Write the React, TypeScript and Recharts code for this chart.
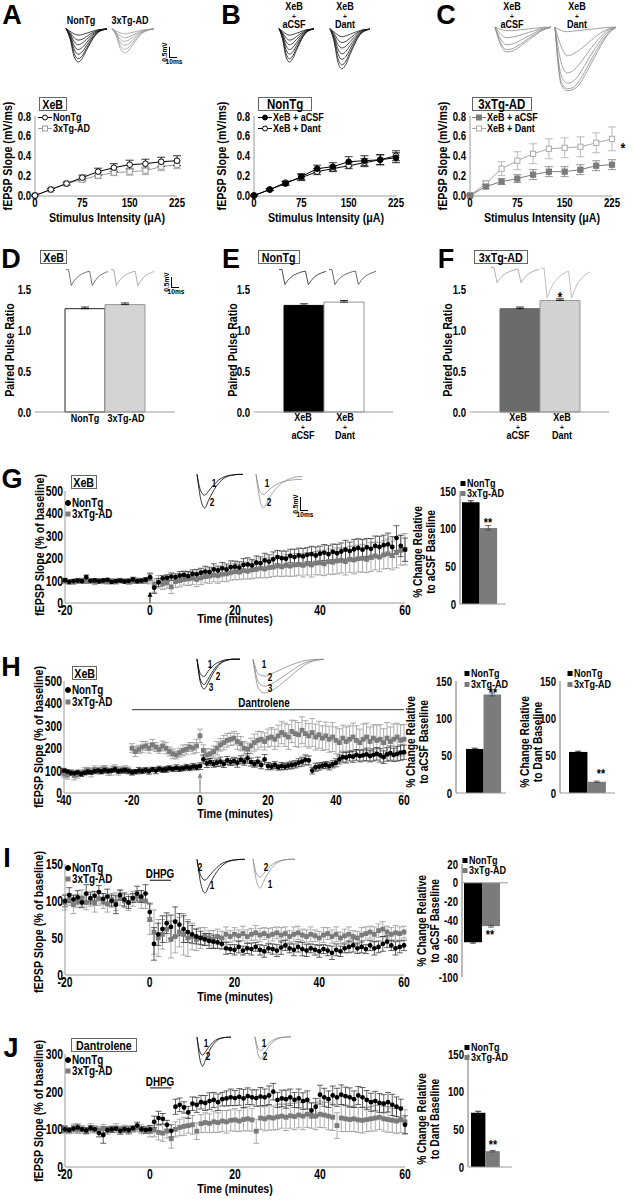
import React from 'react';
import { LineChart, Line, XAxis, YAxis, ErrorBar, BarChart, Bar, ScatterChart, Scatter, ReferenceLine, ReferenceDot } from 'recharts';

const FONT = "'Liberation Sans',Arial,Helvetica,sans-serif";
const CX = 0.82; // horizontal condensing of the bold sans text
const CT = 0.74; // condensing of tick numbers
const GRAY = '#7b7b7b';
const LIGHT = '#a9a9a9';
const AXIS = '#9a9a9a';

// ---------- A-C: input/output ----------
const stimulus = [0, 25, 50, 75, 100, 125, 150, 175, 200, 225];
const stimTicks = [0, 75, 150, 225];
const slopeTicks = [0, 0.2, 0.4, 0.6, 0.8];
const aNonTg = [0, 0.06, 0.12, 0.18, 0.24, 0.28, 0.31, 0.32, 0.34, 0.35];
const aNonTgErr = [0.005, 0.01, 0.015, 0.025, 0.035, 0.04, 0.045, 0.045, 0.045, 0.05];
const a3xTg = [0, 0.06, 0.12, 0.16, 0.2, 0.23, 0.24, 0.25, 0.29, 0.31];
const a3xTgErr = [0.005, 0.01, 0.015, 0.02, 0.03, 0.03, 0.035, 0.04, 0.04, 0.04];
const bACSF = [0, 0.06, 0.12, 0.19, 0.27, 0.29, 0.34, 0.35, 0.36, 0.38];
const bACSFErr = [0.005, 0.01, 0.02, 0.03, 0.035, 0.04, 0.05, 0.05, 0.05, 0.05];
const bDant = [0, 0.06, 0.13, 0.18, 0.24, 0.27, 0.3, 0.33, 0.36, 0.4];
const bDantErr = [0.005, 0.01, 0.015, 0.03, 0.03, 0.03, 0.03, 0.04, 0.05, 0.05];
const cACSF = [0, 0.09, 0.14, 0.17, 0.21, 0.24, 0.24, 0.26, 0.3, 0.31];
const cACSFErr = [0.005, 0.02, 0.03, 0.04, 0.05, 0.05, 0.05, 0.05, 0.05, 0.05];
const cDant = [0, 0.12, 0.27, 0.35, 0.42, 0.47, 0.48, 0.49, 0.53, 0.57];
const cDantErr = [0.005, 0.03, 0.07, 0.09, 0.1, 0.1, 0.1, 0.1, 0.1, 0.12];

// ---------- D-F: paired pulse ratio ----------
const ppTicks = [0, 0.5, 1.0, 1.5];
const ppD = [1.26, 1.31];
const ppDErr = [0.02, 0.02];
const ppE = [1.3, 1.34];
const ppEErr = [0.02, 0.02];
const ppF = [1.26, 1.36];
const ppFErr = [0.02, 0.02];

// ---------- G-J: time courses (one value per minute) ----------
const gNonTg = [
  102, 95, 98, 100, 97, 115, 99, 101, 96, 100,
  103, 94, 98, 100, 96, 99, 105, 97, 100, 104,
  115, 68, 92, 110, 112, 118, 115, 122, 125, 120,
  130, 128, 135, 140, 138, 150, 145, 155, 150, 160,
  162, 158, 170, 172, 168, 180, 178, 190, 185, 195,
  205, 200, 198, 210, 205, 212, 208, 215, 218, 212,
  220, 225, 218, 228, 222, 230, 238, 232, 240, 245,
  238, 248, 242, 255, 250, 258, 262, 250, 290, 255,
  238];
const gNonTgErr = [
  8, 6, 7, 9, 6, 10, 7, 8, 6, 9,
  7, 8, 6, 9, 7, 8, 10, 7, 8, 9,
  15, 25, 18, 12, 14, 16, 15, 18, 17, 20,
  18, 22, 20, 24, 22, 25, 20, 26, 24, 28,
  25, 26, 28, 30, 27, 30, 28, 32, 30, 33,
  30, 32, 34, 30, 35, 33, 36, 32, 35, 38,
  34, 36, 38, 35, 40, 38, 42, 40, 44, 42,
  45, 40, 46, 44, 48, 45, 50, 46, 55, 48,
  52];
const g3xTg = [
  98, 92, 95, 97, 100, 96, 98, 94, 100, 97,
  95, 99, 96, 100, 98, 94, 97, 100, 96, 98,
  110, 78, 95, 85, 90, 72, 95, 100, 105, 108,
  110, 105, 112, 118, 120, 125, 122, 128, 130, 135,
  140, 138, 145, 142, 148, 150, 155, 152, 158, 160,
  165, 162, 168, 165, 170, 172, 168, 175, 170, 178,
  180, 175, 185, 182, 188, 190, 185, 195, 192, 198,
  200, 195, 205, 210, 205, 215, 220, 212, 225, 235,
  240];
const g3xTgErr = [
  10, 8, 12, 9, 11, 8, 10, 12, 9, 11,
  10, 8, 12, 10, 9, 11, 10, 12, 9, 10,
  25, 30, 28, 25, 24, 30, 26, 28, 25, 30,
  28, 32, 30, 28, 32, 30, 34, 32, 35, 33,
  36, 34, 38, 35, 40, 38, 42, 40, 44, 42,
  45, 44, 48, 46, 50, 48, 52, 50, 54, 52,
  55, 53, 56, 55, 58, 56, 60, 58, 62, 60,
  62, 60, 64, 62, 65, 63, 66, 64, 68, 66,
  70];

const hNonTg = [
  100, 95, 90, 88, 92, 85, 90, 95, 92, 98,
  100, 96, 102, 98, 100, 105, 97, 100, 102, 98,
  92, 95, 100, 98, 102, 97, 105, 100, 108, 103,
  105, 110, 107, 112, 108, 110, 115, 112, 118, 115,
  120, 150, 132, 138, 130, 135, 140, 130, 145, 138,
  142, 135, 148, 140, 155, 138, 130, 140, 125, 150,
  120, 118, 125, 115, 120, 118, 122, 125, 128, 135,
  140, 148, 145, 100, 115, 118, 122, 125, 120, 128,
  135, 150, 160, 158, 165, 162, 170, 165, 168, 172,
  165, 170, 175, 168, 160, 172, 178, 170, 175, 180,
  182];
const hNonTgErr = [
  10, 8, 12, 9, 10, 11, 8, 12, 9, 10,
  11, 9, 12, 10, 8, 11, 9, 10, 12, 9,
  12, 10, 14, 11, 12, 13, 10, 14, 12, 11,
  13, 12, 10, 14, 12, 11, 13, 12, 14, 12,
  15, 20, 18, 16, 15, 17, 20, 16, 18, 15,
  17, 20, 18, 16, 22, 18, 15, 20, 17, 22,
  16, 14, 15, 13, 16, 14, 15, 17, 16, 18,
  20, 22, 20, 15, 18, 16, 14, 15, 17, 16,
  18, 20, 22, 24, 22, 25, 24, 26, 25, 28,
  26, 27, 28, 30, 28, 30, 32, 30, 32, 34,
  32];
const h3xTg = [
  85, 80, 90, 78, 82, 88, 95, 100, 92, 105,
  98, 102, 108, 95, 100, 110, 98, 102, 105, 100,
  200, 185, 195, 205, 210, 200, 215, 205, 195, 210,
  200, 185, 175, 170, 180, 190, 195, 205, 200, 210,
  255, 190, 170, 175, 185, 200, 215, 225, 235, 240,
  245, 230, 220, 200, 195, 210, 225, 235, 240, 230,
  245, 250, 240, 255, 270, 260, 250, 275, 265, 260,
  280, 265, 255, 270, 250, 260, 245, 255, 240, 250,
  235, 225, 245, 230, 240, 250, 235, 225, 240, 250,
  230, 245, 235, 240, 225, 245, 230, 240, 250, 235,
  240];
const h3xTgErr = [
  15, 18, 12, 20, 16, 14, 18, 15, 20, 16,
  14, 18, 15, 17, 20, 16, 18, 15, 17, 16,
  20, 22, 18, 25, 20, 22, 24, 20, 18, 22,
  25, 20, 22, 18, 20, 24, 22, 20, 25, 30,
  30, 25, 28, 22, 25, 30, 28, 32, 30, 28,
  30, 35, 32, 30, 28, 35, 38, 40, 35, 38,
  40, 42, 45, 48, 50, 52, 55, 50, 58, 55,
  60, 58, 55, 62, 58, 60, 55, 62, 58, 65,
  60, 62, 58, 65, 60, 62, 65, 60, 68, 62,
  65, 60, 68, 65, 62, 70, 65, 68, 62, 70,
  65];

const iNonTg = [
  100, 108, 102, 105, 98, 110, 104, 107, 112, 103,
  106, 100, 95, 108, 102, 98, 104, 110, 106, 110,
  85, 42, 55, 62, 70, 65, 72, 68, 62, 58,
  55, 52, 50, 48, 46, 45, 44, 42, 36, 35,
  34, 38, 33, 36, 35, 38, 34, 32, 36, 35,
  33, 37, 40, 36, 34, 38, 35, 33, 36, 34,
  32, 35, 33, 30, 34, 32, 36, 38, 40, 36,
  38, 35, 40, 36, 38, 42, 45, 40, 36, 38,
  40];
const iNonTgErr = [
  8, 10, 6, 9, 7, 12, 8, 6, 9, 7,
  10, 8, 12, 7, 9, 8, 6, 10, 8, 12,
  12, 22, 15, 18, 14, 16, 20, 15, 18, 14,
  12, 10, 9, 8, 10, 9, 8, 7, 8, 6,
  7, 8, 6, 7, 8, 6, 7, 8, 6, 7,
  8, 9, 7, 6, 8, 7, 9, 8, 6, 7,
  8, 6, 7, 9, 8, 7, 6, 8, 9, 7,
  8, 6, 7, 9, 8, 10, 8, 7, 9, 8,
  7];
const i3xTg = [
  98, 102, 95, 100, 104, 98, 101, 97, 103, 100,
  96, 102, 99, 104, 100, 98, 103, 106, 102, 100,
  75, 58, 50, 55, 62, 48, 52, 58, 55, 50,
  52, 48, 50, 52, 50, 48, 52, 50, 55, 52,
  55, 53, 56, 52, 55, 57, 54, 56, 53, 55,
  57, 54, 56, 52, 55, 57, 54, 52, 55, 53,
  50, 54, 56, 52, 55, 50, 53, 55, 52, 50,
  54, 56, 58, 55, 60, 62, 58, 55, 57, 56,
  58];
const i3xTgErr = [
  10, 8, 12, 9, 11, 10, 8, 12, 9, 10,
  11, 8, 12, 10, 9, 11, 10, 8, 12, 10,
  20, 30, 25, 20, 18, 25, 22, 20, 28, 25,
  18, 15, 14, 12, 10, 12, 10, 9, 10, 8,
  9, 8, 10, 9, 8, 10, 9, 8, 10, 9,
  8, 10, 9, 8, 10, 9, 8, 9, 10, 8,
  9, 10, 8, 9, 10, 8, 9, 10, 8, 9,
  10, 9, 8, 10, 9, 10, 8, 9, 10, 9,
  8];

const jNonTg = [
  100, 98, 102, 105, 100, 97, 103, 100, 90, 85,
  98, 100, 102, 96, 100, 98, 103, 110, 100, 98,
  100, 120, 130, 128, 112, 96, 160, 165, 158, 145,
  168, 165, 172, 170, 175, 178, 172, 180, 182, 185,
  183, 186, 182, 188, 185, 183, 187, 185, 190, 200,
  178, 182, 180, 185, 178, 182, 175, 178, 150, 160,
  192, 185, 180, 190, 185, 192, 188, 185, 180, 190,
  185, 178, 172, 175, 170, 168, 172, 165, 160, 155,
  112];
const jNonTgErr = [
  8, 6, 7, 9, 6, 8, 7, 6, 10, 22,
  7, 8, 6, 9, 7, 8, 6, 9, 7, 8,
  10, 15, 18, 14, 12, 16, 20, 18, 15, 16,
  18, 20, 18, 20, 22, 20, 22, 18, 20, 22,
  20, 22, 24, 22, 20, 22, 24, 22, 25, 22,
  20, 22, 24, 22, 20, 25, 22, 24, 20, 22,
  25, 24, 22, 25, 24, 26, 24, 25, 22, 24,
  26, 25, 24, 26, 25, 24, 26, 28, 26, 25,
  24];
const j3xTg = [
  100, 96, 102, 98, 100, 95, 103, 100, 98, 102,
  97, 100, 103, 99, 101, 98, 100, 104, 100, 98,
  95, 98, 92, 90, 95, 75, 100, 105, 108, 110,
  112, 95, 115, 118, 116, 120, 118, 122, 120, 124,
  125, 122, 126, 128, 125, 95, 130, 128, 132, 130,
  133, 135, 132, 136, 134, 138, 135, 140, 137, 135,
  140, 138, 135, 132, 110, 130, 128, 126, 128, 125,
  124, 126, 128, 130, 132, 128, 126, 124, 122, 125,
  120];
const j3xTgErr = [
  10, 8, 12, 9, 10, 8, 12, 10, 9, 11,
  10, 8, 12, 9, 10, 11, 8, 10, 12, 9,
  15, 18, 20, 22, 18, 25, 20, 22, 24, 20,
  25, 22, 24, 26, 25, 28, 26, 28, 30, 28,
  30, 28, 30, 32, 30, 32, 30, 32, 34, 32,
  34, 32, 35, 33, 35, 34, 36, 35, 34, 36,
  35, 34, 36, 35, 34, 36, 34, 32, 34, 33,
  34, 32, 33, 34, 32, 33, 34, 32, 33, 34,
  32];

const timeTicks = [-20, 0, 20, 40, 60];
const timeTicksH = [-40, -20, 0, 20, 40, 60];
const ticks500 = [0, 100, 200, 300, 400, 500];
const ticks150 = [0, 50, 100, 150];
const ticks300 = [0, 100, 200, 300];
const insetTicks150 = [0, 50, 100, 150];
const insetTicksI = [-100, -80, -60, -40, -20, 0, 20];

// summary bars (NonTg, 3xTg-AD)
const gSummary = [135, 101];
const gSummaryErr = [2, 3];
const hSummaryACSF = [59, 132];
const hSummaryACSFErr = [1, 2];
const hSummaryDant = [55, 15];
const hSummaryDantErr = [1, 1];
const iSummary = [-63, -46];
const iSummaryErr = [1, 1];
const jSummary = [72, 21];
const jSummaryErr = [2, 1];

// ---------- example traces ----------
const epspNonTg = [
  [0.02, -0.06, -0.14, -0.18, -0.16, -0.12, -0.08, -0.04, -0.01, 0, 0.01],
  [0.02, -0.1, -0.26, -0.33, -0.3, -0.22, -0.14, -0.07, -0.02, 0, 0.01],
  [0.02, -0.14, -0.38, -0.47, -0.42, -0.31, -0.2, -0.1, -0.03, 0, 0.01],
  [0.02, -0.18, -0.5, -0.62, -0.55, -0.41, -0.26, -0.13, -0.05, -0.01, 0.01],
  [0.02, -0.22, -0.62, -0.76, -0.68, -0.5, -0.32, -0.16, -0.06, -0.01, 0.01],
  [0.02, -0.26, -0.74, -0.9, -0.8, -0.58, -0.37, -0.19, -0.07, -0.02, 0.01],
  [0.02, -0.3, -0.84, -1.0, -0.88, -0.64, -0.41, -0.21, -0.08, -0.02, 0.01],
];
const epsp3xTg = [
  [0.02, -0.05, -0.11, -0.14, -0.12, -0.09, -0.06, -0.03, -0.01, 0, 0.01],
  [0.02, -0.08, -0.2, -0.26, -0.23, -0.17, -0.11, -0.05, -0.02, 0, 0.01],
  [0.02, -0.11, -0.3, -0.37, -0.33, -0.24, -0.15, -0.08, -0.03, 0, 0.01],
  [0.02, -0.14, -0.4, -0.49, -0.44, -0.32, -0.2, -0.1, -0.04, -0.01, 0.01],
  [0.02, -0.17, -0.5, -0.61, -0.54, -0.39, -0.25, -0.12, -0.05, -0.01, 0.01],
  [0.02, -0.2, -0.6, -0.72, -0.64, -0.46, -0.29, -0.14, -0.06, -0.01, 0.01],
];
const epspCACSF = [
  [0, -0.04, -0.06, -0.06, -0.05, -0.04, -0.03, -0.02, -0.01, 0, 0],
  [0, -0.12, -0.18, -0.17, -0.15, -0.12, -0.09, -0.06, -0.03, -0.01, 0],
  [0, -0.2, -0.3, -0.29, -0.25, -0.2, -0.15, -0.1, -0.05, -0.02, 0],
  [0, -0.26, -0.38, -0.37, -0.32, -0.26, -0.19, -0.13, -0.07, -0.03, 0],
  [0, -0.3, -0.42, -0.41, -0.36, -0.29, -0.22, -0.15, -0.08, -0.03, 0],
];
const epspCDant = [
  [0, -0.05, -0.07, -0.06, -0.05, -0.04, -0.03, -0.02, -0.01, 0, 0],
  [0, -0.3, -0.45, -0.42, -0.36, -0.28, -0.2, -0.12, -0.06, -0.02, 0],
  [0, -0.55, -0.72, -0.68, -0.58, -0.45, -0.32, -0.2, -0.1, -0.03, 0],
  [0, -0.75, -0.88, -0.85, -0.74, -0.58, -0.42, -0.27, -0.14, -0.05, 0],
  [0, -0.85, -0.97, -0.95, -0.84, -0.68, -0.5, -0.33, -0.18, -0.07, 0],
  [0, -0.9, -1.0, -0.98, -0.9, -0.74, -0.56, -0.38, -0.21, -0.08, 0],
];
const pairedPulse = [[0, 0, -1.0, -0.72, -0.52, -0.38, -0.28, -0.2, -0.14, -0.1, -1.0, -0.72, -0.5, -0.36, -0.26, -0.18, -0.12]];
const ltpPair = [
  [0, -0.5, -0.62, -0.5, -0.36, -0.24, -0.14, -0.08, -0.04, -0.02, -0.01, 0, 0],
  [0, -0.75, -1.0, -0.78, -0.55, -0.36, -0.22, -0.12, -0.06, -0.03, -0.01, 0, 0],
];
const ltpPairOpen = [
  [0, -0.5, -0.6, -0.5, -0.4, -0.32, -0.26, -0.22, -0.19, -0.17, -0.16, -0.15, -0.15],
  [0, -0.75, -1.0, -0.8, -0.6, -0.45, -0.33, -0.24, -0.17, -0.12, -0.09, -0.07, -0.06],
];
const dantTriple = [
  [0, -0.5, -0.58, -0.42, -0.28, -0.17, -0.1, -0.05, -0.02, -0.01, 0, 0, 0],
  [0, -0.7, -0.85, -0.68, -0.48, -0.3, -0.17, -0.09, -0.04, -0.01, 0, 0, 0],
  [0, -0.8, -1.0, -0.82, -0.58, -0.38, -0.22, -0.11, -0.05, -0.02, 0, 0, 0],
];
const dantTripleBroad = [
  [0, -0.45, -0.5, -0.44, -0.36, -0.28, -0.2, -0.13, -0.07, -0.03, -0.01, 0, 0],
  [0, -0.7, -0.8, -0.74, -0.64, -0.52, -0.4, -0.28, -0.17, -0.09, -0.04, -0.01, 0],
  [0, -0.9, -1.0, -0.94, -0.84, -0.7, -0.55, -0.4, -0.26, -0.14, -0.06, -0.02, 0],
];

// ---------- helpers ----------
function frame(x0: number, y0: number, x1: number, y1: number, yw: number, xh: number, mt = 8, mr = 8) {
  return { left: x0 - yw, top: y0 - mt, width: x1 - x0 + yw + mr, height: y1 - y0 + mt + xh, margin: { top: mt, right: mr, bottom: 0, left: 0 } };
}

function tickR(kind: string, fmt?: (v: number) => string, size = 13) {
  return (p: any) => {
    const v = fmt ? fmt(p.payload.value) : String(p.payload.value);
    return (
      <g transform={`translate(${p.x},${p.y})`}>
        <text transform={`scale(${CT},1)`} textAnchor={kind === 'x' ? 'middle' : 'end'} dy={kind === 'x' ? '0.71em' : '0.355em'} fontSize={size} fontFamily={FONT} fontWeight={700} fill="#000">{v}</text>
      </g>
    );
  };
}
const fmt1 = (v: number) => v.toFixed(1);

function Txt({ x, y, s = 12, a = 'middle', r = 0, w = 700, c = '#000', cx = CX, lh = 1, children }: any) {
  const tx = a === 'middle' ? '-50%' : a === 'end' ? '-100%' : '0%';
  return (
    <div style={{ position: 'absolute', left: x, top: y, transform: `translate(${tx},-50%) rotate(${r}deg) scaleX(${cx})`, fontSize: s, fontFamily: FONT, fontWeight: w, color: c, whiteSpace: 'nowrap', lineHeight: lh, textAlign: 'center' }}>
      {children}
    </div>
  );
}

function BoxLabel({ x, y, w, h, s = 13, children }: any) {
  return (
    <div style={{ position: 'absolute', left: x, top: y, width: w, height: h, border: '1px solid #666', boxSizing: 'border-box', display: 'flex', alignItems: 'center', justifyContent: 'center', fontFamily: FONT, fontWeight: 700, fontSize: s, lineHeight: 1, whiteSpace: 'nowrap' }}>
      <span style={{ display: 'inline-block', transform: `scaleX(${CX})` }}>{children}</span>
    </div>
  );
}

function Leg({ x, y, marker, color, fill, text, s = 11, line = false }: any) {
  const cx = line ? 7 : 3;
  return (
    <div style={{ position: 'absolute', left: x, top: y, transform: 'translateY(-50%)', display: 'flex', alignItems: 'center', fontFamily: FONT, fontWeight: 700, fontSize: s, whiteSpace: 'nowrap', lineHeight: 1 }}>
      <svg width={line ? 14 : 6} height={8} style={{ marginRight: 1 }}>
        {line && <line x1={0} y1={4} x2={14} y2={4} stroke={color} strokeWidth={1} />}
        {marker === 'circle'
          ? <circle cx={cx} cy={4} r={2.5} fill={fill} stroke={color} strokeWidth={1} />
          : <rect x={cx - 2.5} y={1.5} width={5} height={5} fill={fill} stroke={color} strokeWidth={line ? 1 : 0} />}
      </svg>
      <span style={{ display: 'inline-block', transform: `scaleX(${CX})`, transformOrigin: 'left center' }}>{text}</span>
    </div>
  );
}

function ScaleBar({ x, y, vh, hw }: any) {
  return (
    <>
      <div style={{ position: 'absolute', left: x, top: y, width: 0, height: vh, borderLeft: '1px solid #000' }} />
      <div style={{ position: 'absolute', left: x, top: y + vh, width: hw, height: 0, borderTop: '1px solid #000' }} />
      <Txt x={x - 4} y={y + vh / 2} s={8} r={-90}>0.5mV</Txt>
      <Txt x={x + 5} y={y + vh + 5} s={8}>10ms</Txt>
    </>
  );
}

function TraceFamily({ x, y, w, h, curves, colors, domain = [-1.03, 0.04], sw = 0.8, curve = 'monotone' }: any) {
  const data = curves[0].map((_: number, i: number) => {
    const r: any = { i };
    curves.forEach((c: number[], k: number) => { r['c' + k] = c[i]; });
    return r;
  });
  return (
    <div style={{ position: 'absolute', left: x, top: y }}>
      <LineChart width={w} height={h} data={data} margin={{ top: 1, right: 1, bottom: 1, left: 1 }}>
        <XAxis dataKey="i" type="number" domain={['dataMin', 'dataMax']} hide />
        <YAxis type="number" domain={domain} hide />
        {curves.map((_: any, k: number) => (
          <Line key={k} dataKey={'c' + k} type={curve} stroke={Array.isArray(colors) ? colors[k % colors.length] : colors} strokeWidth={sw} dot={false} isAnimationActive={false} />
        ))}
      </LineChart>
    </div>
  );
}

const dotFn = (marker: string, color: string, fill: string) => (p: any) =>
  marker === 'circle'
    ? <circle key={p.index} cx={p.cx} cy={p.cy} r={2.8} fill={fill} stroke={color} strokeWidth={1} />
    : <rect key={p.index} x={p.cx - 2.6} y={p.cy - 2.6} width={5.2} height={5.2} fill={fill} stroke={color} strokeWidth={1} />;

function DoseChart({ x0, series }: any) {
  const f = frame(x0, 116, x0 + 142, 196, 30, 16, 8, 14);
  const rows = stimulus.map((s, i) => {
    const r: any = { s };
    series.forEach((se: any, k: number) => { r['v' + k] = se.vals[i]; r['e' + k] = se.errs[i]; });
    return r;
  });
  return (
    <div style={{ position: 'absolute', left: f.left, top: f.top }}>
      <LineChart width={f.width} height={f.height} margin={f.margin} data={rows}>
        <XAxis type="number" dataKey="s" domain={[0, 225]} ticks={stimTicks} interval={0} tick={tickR('x')} tickLine={false} axisLine={{ stroke: AXIS }} height={16} tickSize={1} tickMargin={1} />
        <YAxis type="number" domain={[0, 0.8]} ticks={slopeTicks} interval={0} tick={tickR('y', fmt1)} tickLine={false} axisLine={{ stroke: AXIS }} width={30} tickSize={2} tickMargin={2} />
        {series.map((se: any, k: number) => (
          <Line key={k} dataKey={'v' + k} stroke={se.color} strokeWidth={1} dot={dotFn(se.marker, se.color, se.fill)} isAnimationActive={false}>
            <ErrorBar dataKey={'e' + k} direction="y" width={4} stroke={se.color} strokeWidth={0.8} />
          </Line>
        ))}
      </LineChart>
    </div>
  );
}

function PPBar({ x0, x1, values, errs, fills, strokes }: any) {
  const f = frame(x0, 289, x1, 412, 30, 10, 8, 4);
  const row = { n: 'g', a: values[0], b: values[1], ea: [0, errs[0]], eb: [0, errs[1]] };
  return (
    <div style={{ position: 'absolute', left: f.left, top: f.top }}>
      <BarChart width={f.width} height={f.height} margin={f.margin} data={[row]} barGap={0}>
        <XAxis dataKey="n" tick={false} tickLine={false} axisLine={{ stroke: AXIS }} height={10} />
        <YAxis type="number" domain={[0, 1.5]} ticks={ppTicks} interval={0} tick={tickR('y', fmt1)} tickLine={false} axisLine={false} width={30} tickSize={2} tickMargin={2} />
        <Bar dataKey="a" barSize={40} fill={fills[0]} stroke={strokes[0]} strokeWidth={1} isAnimationActive={false}>
          <ErrorBar dataKey="ea" width={4} stroke="#000" strokeWidth={0.8} direction="y" />
        </Bar>
        <Bar dataKey="b" barSize={40} fill={fills[1]} stroke={strokes[1]} strokeWidth={1} isAnimationActive={false}>
          <ErrorBar dataKey="eb" width={4} stroke="#000" strokeWidth={0.8} direction="y" />
        </Bar>
      </BarChart>
    </div>
  );
}

function Inset({ x0, y0, x1, y1, padL, padR, domain, ticks, values, errs, zero = false }: any) {
  const f = frame(x0, y0, x1, y1, 30, 10, 9, 4);
  const bw = (x1 - x0 - padL - padR) / 2;
  const row = { n: 'g', a: values[0], b: values[1], ea: errs[0], eb: errs[1] };
  return (
    <div style={{ position: 'absolute', left: f.left, top: f.top }}>
      <BarChart width={f.width} height={f.height} margin={f.margin} data={[row]} barGap={0}>
        <XAxis dataKey="n" tick={false} tickLine={false} axisLine={zero ? false : { stroke: AXIS }} height={10} padding={{ left: padL, right: padR }} />
        <YAxis type="number" domain={domain} ticks={ticks} interval={0} tick={tickR('y')} tickLine={false} axisLine={{ stroke: '#777' }} width={30} tickSize={2} tickMargin={2} />
        {zero && <ReferenceLine y={0} stroke={AXIS} />}
        <Bar dataKey="a" barSize={bw} fill="#000" isAnimationActive={false}>
          <ErrorBar dataKey="ea" width={3} stroke="#000" strokeWidth={0.8} direction="y" />
        </Bar>
        <Bar dataKey="b" barSize={bw} fill={GRAY} isAnimationActive={false}>
          <ErrorBar dataKey="eb" width={3} stroke="#444" strokeWidth={0.8} direction="y" />
        </Bar>
      </BarChart>
    </div>
  );
}

const dotCircle = (p: any) => <circle cx={p.cx} cy={p.cy} r={2.4} fill="#000" />;
const dotSquare = (p: any) => <rect x={p.cx - 2.4} y={p.cy - 2.4} width={4.8} height={4.8} fill={GRAY} />;
const arrowHead = (color: string) => (p: any) => <path d={`M${p.cx - 2.5},${p.cy + 5} L${p.cx},${p.cy} L${p.cx + 2.5},${p.cy + 5} Z`} fill={color} />;

function pts(start: number, vals: number[], errs: number[]) {
  return vals.map((v, i) => ({ t: start + i, v, e: errs[i] }));
}

function TimeSeries({ x0, y0, x1, y1, xDomain, xTicks, yDomain, yTicks, start, black, blackErr, gray, grayErr, children }: any) {
  const f = frame(x0, y0, x1, y1, 36, 18, 10, 12);
  return (
    <div style={{ position: 'absolute', left: f.left, top: f.top }}>
      <ScatterChart width={f.width} height={f.height} margin={f.margin}>
        <XAxis type="number" dataKey="t" domain={xDomain} ticks={xTicks} interval={0} tick={tickR('x', undefined, 14)} tickLine={false} axisLine={{ stroke: AXIS }} height={18} tickSize={1} tickMargin={1} />
        <YAxis type="number" dataKey="v" domain={yDomain} ticks={yTicks} interval={0} tick={tickR('y', undefined, 14)} tickLine={false} axisLine={{ stroke: AXIS }} width={36} tickSize={1} tickMargin={1} />
        <Scatter name="3xTg-AD" data={pts(start, gray, grayErr)} shape={dotSquare} isAnimationActive={false}>
          <ErrorBar dataKey="e" direction="y" width={3} stroke="#8a8a8a" strokeWidth={0.7} />
        </Scatter>
        <Scatter name="NonTg" data={pts(start, black, blackErr)} shape={dotCircle} isAnimationActive={false}>
          <ErrorBar dataKey="e" direction="y" width={3} stroke="#222" strokeWidth={0.7} />
        </Scatter>
        {children}
      </ScatterChart>
    </div>
  );
}

function TwoLine({ x, y, a, b, s = 12.5 }: any) {
  return <Txt x={x} y={y} s={s} r={-90} lh={1}>{a}<br />{b}</Txt>;
}

function Stack({ x, y, a, b, s = 11 }: any) {
  return <Txt x={x} y={y} s={s} lh={0.8}>{a}<br /><span style={{ fontSize: 8 }}>+</span><br />{b}</Txt>;
}

export default function App() {
  return (
    <div style={{ position: 'absolute', left: 0, top: 0, width: 634, height: 1200, background: '#fff', overflow: 'hidden' }}>
      {/* ---------- A ---------- */}
      <Txt x={12} y={15} s={27} cx={1}>A</Txt>
      <Txt x={81} y={20} s={11}>NonTg</Txt>
      <Txt x={130} y={20} s={11}>3xTg-AD</Txt>
      <TraceFamily x={65} y={27} w={43} h={37} curves={epspNonTg} colors="#111" />
      <TraceFamily x={111} y={27} w={44} h={37} curves={epsp3xTg} colors="#9a9a9a" />
      <ScaleBar x={169} y={47} vh={10} hw={8} />
      <BoxLabel x={39} y={97} w={28} h={14}>XeB</BoxLabel>
      <Leg x={38} y={117} line marker="circle" color="#000" fill="#fff" text="NonTg" />
      <Leg x={38} y={128} line marker="square" color="#999" fill="#fff" text="3xTg-AD" />
      <DoseChart x0={35} series={[
        { vals: a3xTg, errs: a3xTgErr, color: '#999', fill: '#fff', marker: 'square' },
        { vals: aNonTg, errs: aNonTgErr, color: '#000', fill: '#fff', marker: 'circle' },
      ]} />
      <Txt x={7} y={156} s={13} r={-90}>fEPSP Slope (mV/ms)</Txt>
      <Txt x={107} y={217} s={13}>Stimulus Intensity (μA)</Txt>

      {/* ---------- B ---------- */}
      <Txt x={231} y={15} s={27} cx={1}>B</Txt>
      <Stack x={294} y={15} a="XeB" b="aCSF" />
      <Stack x={345} y={15} a="XeB" b="Dant" />
      <TraceFamily x={278} y={27} w={37} h={37} curves={epspNonTg} colors="#111" />
      <TraceFamily x={329} y={27} w={42} h={44} curves={epspNonTg} colors="#222" />
      <BoxLabel x={258} y={97} w={54} h={14} s={14}>NonTg</BoxLabel>
      <Leg x={258} y={117} line marker="circle" color="#000" fill="#000" text="XeB + aCSF" />
      <Leg x={258} y={128} line marker="circle" color="#000" fill="#fff" text="XeB + Dant" />
      <DoseChart x0={254} series={[
        { vals: bDant, errs: bDantErr, color: '#000', fill: '#fff', marker: 'circle' },
        { vals: bACSF, errs: bACSFErr, color: '#000', fill: '#000', marker: 'circle' },
      ]} />
      <Txt x={221} y={156} s={13} r={-90}>fEPSP Slope (mV/ms)</Txt>
      <Txt x={326} y={217} s={13}>Stimulus Intensity (μA)</Txt>

      {/* ---------- C ---------- */}
      <Txt x={446} y={15} s={27} cx={1}>C</Txt>
      <Stack x={512} y={15} a="XeB" b="aCSF" />
      <Stack x={577} y={15} a="XeB" b="Dant" />
      <TraceFamily x={494} y={25} w={58} h={29} curves={epspCACSF} colors="#8a8a8a" domain={[-0.44, 0.02]} />
      <TraceFamily x={554} y={25} w={63} h={68} curves={epspCDant} colors="#8a8a8a" domain={[-1.02, 0.02]} />
      <BoxLabel x={472} y={97} w={60} h={14} s={14}>3xTg-AD</BoxLabel>
      <Leg x={472} y={117} line marker="square" color={GRAY} fill={GRAY} text="XeB + aCSF" />
      <Leg x={472} y={128} line marker="square" color={LIGHT} fill="#fff" text="XeB + Dant" />
      <DoseChart x0={470} series={[
        { vals: cDant, errs: cDantErr, color: LIGHT, fill: '#fff', marker: 'square' },
        { vals: cACSF, errs: cACSFErr, color: GRAY, fill: GRAY, marker: 'square' },
      ]} />
      <Txt x={623} y={147} s={15}>*</Txt>
      <Txt x={442} y={156} s={13} r={-90}>fEPSP Slope (mV/ms)</Txt>
      <Txt x={542} y={217} s={13}>Stimulus Intensity (μA)</Txt>

      {/* ---------- D ---------- */}
      <Txt x={11} y={259} s={27} cx={1}>D</Txt>
      <BoxLabel x={40} y={250} w={27} h={14}>XeB</BoxLabel>
      <TraceFamily x={65} y={268} w={44} h={19} curves={pairedPulse} colors="#555" curve="linear" />
      <TraceFamily x={110} y={268} w={45} h={19} curves={pairedPulse} colors="#9a9a9a" curve="linear" />
      <ScaleBar x={171} y={277} vh={10} hw={8} />
      <PPBar x0={35} x1={175} values={ppD} errs={ppDErr} fills={['#fff', '#d4d4d4']} strokes={['#222', '#999']} />
      <Txt x={9} y={350} s={13} r={-90}>Paired Pulse Ratio</Txt>
      <Txt x={85} y={418} s={11}>NonTg</Txt>
      <Txt x={126} y={418} s={11}>3xTg-AD</Txt>

      {/* ---------- E ---------- */}
      <Txt x={231} y={259} s={27} cx={1}>E</Txt>
      <BoxLabel x={258} y={250} w={42} h={14}>NonTg</BoxLabel>
      <TraceFamily x={278} y={268} w={49} h={18} curves={pairedPulse} colors="#222" curve="linear" />
      <TraceFamily x={328} y={268} w={49} h={18} curves={pairedPulse} colors="#444" curve="linear" />
      <PPBar x0={254} x1={393} values={ppE} errs={ppEErr} fills={['#000', '#fff']} strokes={['#000', '#999']} />
      <Txt x={232} y={350} s={13} r={-90}>Paired Pulse Ratio</Txt>
      <Stack x={303} y={426} a="XeB" b="aCSF" />
      <Stack x={345} y={426} a="XeB" b="Dant" />

      {/* ---------- F ---------- */}
      <Txt x={446} y={259} s={27} cx={1}>F</Txt>
      <BoxLabel x={474} y={250} w={54} h={14}>3xTg-AD</BoxLabel>
      <TraceFamily x={490} y={266} w={50} h={18} curves={pairedPulse} colors="#9a9a9a" curve="linear" />
      <TraceFamily x={540} y={266} w={51} h={34} curves={pairedPulse} colors="#b0b0b0" curve="linear" />
      <PPBar x0={470} x1={609} values={ppF} errs={ppFErr} fills={['#6b6b6b', '#d2d2d2']} strokes={['#666', '#999']} />
      <Txt x={560} y={297} s={14}>*</Txt>
      <Txt x={447} y={350} s={13} r={-90}>Paired Pulse Ratio</Txt>
      <Stack x={518} y={426} a="XeB" b="aCSF" />
      <Stack x={562} y={426} a="XeB" b="Dant" />

      {/* ---------- G ---------- */}
      <Txt x={12} y={479} s={27} cx={1}>G</Txt>
      <BoxLabel x={71} y={475} w={26} h={14}>XeB</BoxLabel>
      <TraceFamily x={196} y={472} w={48} h={38} curves={ltpPair} colors="#000" />
      <TraceFamily x={255} y={472} w={48} h={38} curves={ltpPairOpen} colors="#8a8a8a" />
      <Txt x={214} y={484} s={10}>1</Txt>
      <Txt x={212} y={503} s={10}>2</Txt>
      <Txt x={267} y={484} s={10}>1</Txt>
      <Txt x={269} y={503} s={10}>2</Txt>
      <ScaleBar x={300} y={497} vh={13} hw={8} />
      <TimeSeries x0={65} y0={491} x1={405} y1={603} xDomain={[-20, 60]} xTicks={timeTicks} yDomain={[0, 500]} yTicks={ticks500}
        start={-20} black={gNonTg} blackErr={gNonTgErr} gray={g3xTg} grayErr={g3xTgErr}>
        <ReferenceLine segment={[{ x: 0, y: 0 }, { x: 0, y: 45 }]} stroke="#000" strokeWidth={1} ifOverflow="visible" />
        <ReferenceDot x={0} y={50} r={3} shape={arrowHead('#000')} ifOverflow="visible" />
      </TimeSeries>
      <Leg x={65} y={503} marker="circle" color="#000" fill="#000" text="NonTg" s={12} />
      <Leg x={65} y={514} marker="square" color={GRAY} fill={GRAY} text="3xTg-AD" s={12} />
      <Txt x={39} y={545} s={13} r={-90}>fEPSP Slope (% of baseline)</Txt>
      <Txt x={235} y={618} s={13}>Time (minutes)</Txt>
      <Inset x0={460} y0={491} x1={506} y1={604} padL={0} padR={7} domain={[0, 150]} ticks={insetTicks150} values={gSummary} errs={gSummaryErr} />
      <Leg x={460} y={483} marker="square" color="#000" fill="#000" text="NonTg" />
      <Leg x={460} y={493} marker="square" color={GRAY} fill={GRAY} text="3xTg-AD" />
      <Txt x={488} y={522} s={13}>**</Txt>
      <TwoLine x={424} y={552} a="% Change Relative" b="to aCSF Baseline" />

      {/* ---------- H ---------- */}
      <Txt x={11} y={667} s={27} cx={1}>H</Txt>
      <BoxLabel x={72} y={666} w={25} h={14}>XeB</BoxLabel>
      <TraceFamily x={196} y={657} w={45} h={34} curves={dantTriple} colors="#000" />
      <TraceFamily x={252} y={657} w={73} h={38} curves={dantTripleBroad} colors="#8a8a8a" />
      <Txt x={210} y={665} s={10}>1</Txt>
      <Txt x={218} y={677} s={10}>2</Txt>
      <Txt x={211} y={688} s={10}>3</Txt>
      <Txt x={264} y={665} s={10}>1</Txt>
      <Txt x={270} y={678} s={10}>2</Txt>
      <Txt x={270} y={689} s={10}>3</Txt>
      <TimeSeries x0={64} y0={681} x1={404} y1={793} xDomain={[-40, 60]} xTicks={timeTicksH} yDomain={[0, 500]} yTicks={ticks500}
        start={-40} black={hNonTg} blackErr={hNonTgErr} gray={h3xTg} grayErr={h3xTgErr}>
        <ReferenceLine segment={[{ x: -20, y: 372 }, { x: 60, y: 372 }]} stroke="#333" strokeWidth={1} ifOverflow="visible" />
        <ReferenceLine segment={[{ x: 0, y: 0 }, { x: 0, y: 84 }]} stroke="#888" strokeWidth={1.2} ifOverflow="visible" />
        <ReferenceDot x={0} y={90} r={3} shape={arrowHead('#888')} ifOverflow="visible" />
      </TimeSeries>
      <Txt x={264} y={703} s={12}>Dantrolene</Txt>
      <Leg x={65} y={690} marker="circle" color="#000" fill="#000" text="NonTg" s={12} />
      <Leg x={65} y={702} marker="square" color={GRAY} fill={GRAY} text="3xTg-AD" s={12} />
      <Txt x={38} y={737} s={13} r={-90}>fEPSP Slope (% of baseline)</Txt>
      <Txt x={235} y={813} s={13}>Time (minutes)</Txt>
      <Inset x0={456} y0={681} x1={506} y1={793} padL={8} padR={3} domain={[0, 150]} ticks={insetTicks150} values={hSummaryACSF} errs={hSummaryACSFErr} />
      <Leg x={464} y={673} marker="square" color="#000" fill="#000" text="NonTg" />
      <Leg x={464} y={684} marker="square" color={GRAY} fill={GRAY} text="3xTg-AD" />
      <Txt x={493} y={692} s={13}>**</Txt>
      <TwoLine x={417} y={742} a="% Change Relative" b="to aCSF Baseline" />
      <Inset x0={560} y0={681} x1={615} y1={793} padL={7} padR={7} domain={[0, 150]} ticks={insetTicks150} values={hSummaryDant} errs={hSummaryDantErr} />
      <Leg x={567} y={673} marker="square" color="#000" fill="#000" text="NonTg" />
      <Leg x={567} y={684} marker="square" color={GRAY} fill={GRAY} text="3xTg-AD" />
      <Txt x={601} y={773} s={13}>**</Txt>
      <TwoLine x={531} y={742} a="% Change Relative" b="to Dant Baseline" />

      {/* ---------- I ---------- */}
      <Txt x={7} y={858} s={27} cx={1}>I</Txt>
      <TraceFamily x={196} y={857} w={50} h={38} curves={[ltpPair[1], ltpPair[0]]} colors="#000" />
      <TraceFamily x={252} y={857} w={44} h={33} curves={[ltpPair[1], ltpPair[0]]} colors="#8a8a8a" />
      <Txt x={200} y={868} s={10}>2</Txt>
      <Txt x={212} y={886} s={10}>1</Txt>
      <Txt x={266} y={868} s={10}>2</Txt>
      <Txt x={270} y={885} s={10}>1</Txt>
      <TimeSeries x0={65} y0={864} x1={404} y1={975} xDomain={[-20, 60]} xTicks={timeTicks} yDomain={[0, 150]} yTicks={ticks150}
        start={-20} black={iNonTg} blackErr={iNonTgErr} gray={i3xTg} grayErr={i3xTgErr}>
        <ReferenceLine segment={[{ x: 0, y: 128 }, { x: 5, y: 128 }]} stroke="#333" strokeWidth={1.2} ifOverflow="visible" />
      </TimeSeries>
      <Txt x={160} y={874} s={12}>DHPG</Txt>
      <Leg x={65} y={868} marker="circle" color="#000" fill="#000" text="NonTg" s={12} />
      <Leg x={65} y={879} marker="square" color={GRAY} fill={GRAY} text="3xTg-AD" s={12} />
      <Txt x={38} y={922} s={13} r={-90}>fEPSP Slope (% of baseline)</Txt>
      <Txt x={235} y={996} s={13}>Time (minutes)</Txt>
      <Inset x0={462} y0={864} x1={508} y1={977} padL={0} padR={6} domain={[-100, 20]} ticks={insetTicksI} values={iSummary} errs={iSummaryErr} zero />
      <Leg x={462} y={860} marker="square" color="#000" fill="#000" text="NonTg" />
      <Leg x={462} y={870} marker="square" color={GRAY} fill={GRAY} text="3xTg-AD" />
      <Txt x={490} y={934} s={13}>**</Txt>
      <TwoLine x={428} y={921} a="% Change Relative" b="to aCSF Baseline" />

      {/* ---------- J ---------- */}
      <Txt x={11} y={1048} s={27} cx={1}>J</Txt>
      <BoxLabel x={71} y={1038} w={66} h={14}>Dantrolene</BoxLabel>
      <TraceFamily x={196} y={1035} w={36} h={33} curves={ltpPair} colors="#000" />
      <TraceFamily x={254} y={1035} w={38} h={26} curves={ltpPair} colors="#8a8a8a" />
      <Txt x={206} y={1044} s={10}>1</Txt>
      <Txt x={208} y={1057} s={10}>2</Txt>
      <Txt x={264} y={1044} s={10}>1</Txt>
      <Txt x={265} y={1057} s={10}>2</Txt>
      <TimeSeries x0={65} y0={1054} x1={405} y1={1167} xDomain={[-20, 60]} xTicks={timeTicks} yDomain={[0, 300]} yTicks={ticks300}
        start={-20} black={jNonTg} blackErr={jNonTgErr} gray={j3xTg} grayErr={j3xTgErr}>
        <ReferenceLine segment={[{ x: 0, y: 210 }, { x: 5, y: 210 }]} stroke="#333" strokeWidth={1.2} ifOverflow="visible" />
      </TimeSeries>
      <Txt x={160} y={1082} s={12}>DHPG</Txt>
      <Leg x={65} y={1060} marker="circle" color="#000" fill="#000" text="NonTg" s={12} />
      <Leg x={65} y={1071} marker="square" color={GRAY} fill={GRAY} text="3xTg-AD" s={12} />
      <Txt x={38} y={1111} s={13} r={-90}>fEPSP Slope (% of baseline)</Txt>
      <Txt x={235} y={1188} s={13}>Time (minutes)</Txt>
      <Inset x0={468} y0={1054} x1={512} y1={1167} padL={1} padR={11} domain={[0, 150]} ticks={insetTicks150} values={jSummary} errs={jSummaryErr} />
      <Leg x={464} y={1047} marker="square" color="#000" fill="#000" text="NonTg" />
      <Leg x={464} y={1057} marker="square" color={GRAY} fill={GRAY} text="3xTg-AD" />
      <Txt x={493} y={1144} s={13}>**</Txt>
      <TwoLine x={428} y={1119} a="% Change Relative" b="to Dant Baseline" />
    </div>
  );
}
